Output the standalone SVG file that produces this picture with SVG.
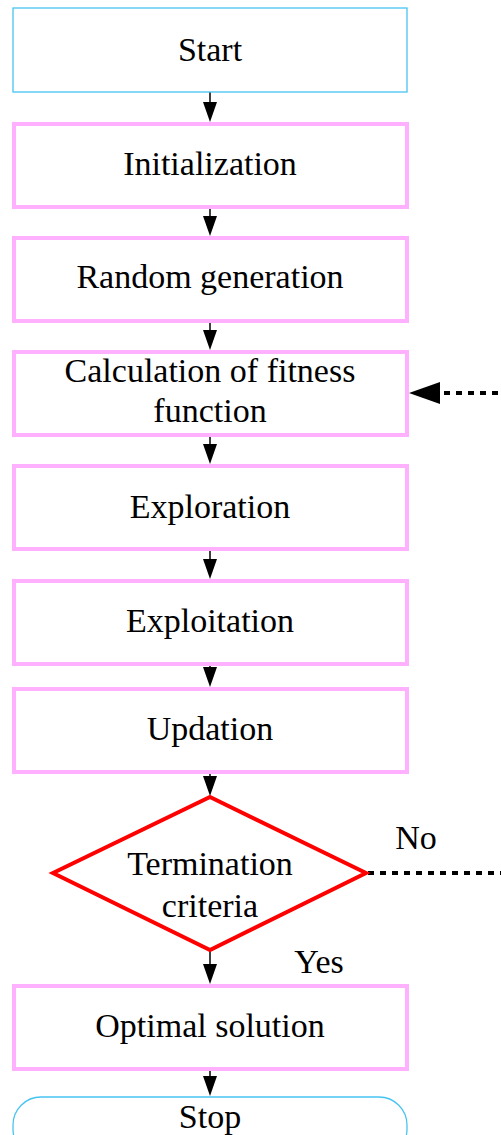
<svg xmlns="http://www.w3.org/2000/svg" width="501" height="1135" viewBox="0 0 501 1135">
  <style>
    .lbl { font-family: "Liberation Serif", "Times New Roman", serif; font-size: 34px; fill: #000; text-anchor: middle; }
    .term { fill: #fff; stroke: #45c4f2; stroke-width: 1.3; }
    .proc { fill: #fff; stroke: #ffb0ff; stroke-width: 4; }
    .dec { fill: #fff; stroke: #ff0000; stroke-width: 4; stroke-linejoin: miter; }
    .flow { stroke: #000; stroke-width: 1.5; fill: none; }
    .loop { stroke: #000; stroke-width: 4; stroke-dasharray: 6 6; fill: none; }
  </style>
  <rect width="501" height="1135" fill="#fff"/>

  <g id="connectors">
    <line class="flow" x1="210" y1="92" x2="210" y2="106"/>
    <path d="M203,102 L217,102 L210,122 Z" fill="#000"/>
    <line class="flow" x1="210" y1="207" x2="210" y2="220"/>
    <path d="M203,216 L217,216 L210,236 Z" fill="#000"/>
    <line class="flow" x1="210" y1="321" x2="210" y2="334"/>
    <path d="M203,330 L217,330 L210,350 Z" fill="#000"/>
    <line class="flow" x1="210" y1="435" x2="210" y2="448"/>
    <path d="M203,444 L217,444 L210,464 Z" fill="#000"/>
    <line class="flow" x1="210" y1="549" x2="210" y2="563"/>
    <path d="M203,559 L217,559 L210,579 Z" fill="#000"/>
    <line class="flow" x1="210" y1="664" x2="210" y2="671"/>
    <path d="M203,667 L217,667 L210,687 Z" fill="#000"/>
    <line class="flow" x1="210" y1="772" x2="210" y2="780"/>
    <path d="M203,776 L217,776 L210,796 Z" fill="#000"/>
    <line class="flow" x1="210" y1="950" x2="210" y2="968"/>
    <path d="M203,964 L217,964 L210,984 Z" fill="#000"/>
    <line class="flow" x1="210" y1="1069" x2="210" y2="1080"/>
    <path d="M203,1076 L217,1076 L210,1096 Z" fill="#000"/>
    <!-- loop back: decision "No" to fitness evaluation -->
    <line class="loop" x1="368" y1="873" x2="501" y2="873"/>
    <line class="loop" x1="444" y1="393" x2="501" y2="393"/>
    <path d="M409,393 L440,382 L440,404 Z" fill="#000"/>
  </g>

  <g id="start">
    <rect class="term" x="13" y="8" width="394" height="84"/>
    <text class="lbl" x="210" y="61">Start</text>
  </g>
  <g id="init">
    <rect class="proc" x="14" y="124" width="393" height="83"/>
    <text class="lbl" x="210" y="175">Initialization</text>
  </g>
  <g id="random">
    <rect class="proc" x="14" y="238" width="393" height="83"/>
    <text class="lbl" x="210" y="288">Random generation</text>
  </g>
  <g id="fitness">
    <rect class="proc" x="14" y="352" width="393" height="83"/>
    <text class="lbl" x="210" y="382">Calculation of fitness</text>
    <text class="lbl" x="210" y="422">function</text>
  </g>
  <g id="exploration">
    <rect class="proc" x="14" y="466" width="393" height="83"/>
    <text class="lbl" x="210" y="518">Exploration</text>
  </g>
  <g id="exploitation">
    <rect class="proc" x="14" y="581" width="393" height="83"/>
    <text class="lbl" x="210" y="632">Exploitation</text>
  </g>
  <g id="updation">
    <rect class="proc" x="14" y="689" width="393" height="83"/>
    <text class="lbl" x="210" y="740">Updation</text>
  </g>
  <g id="termination">
    <polygon class="dec" points="210,797 366,873 210,950 53,873"/>
    <text class="lbl" x="210" y="875">Termination</text>
    <text class="lbl" x="210" y="917">criteria</text>
  </g>
  <g id="optimal">
    <rect class="proc" x="14" y="986" width="393" height="83"/>
    <text class="lbl" x="210" y="1037">Optimal solution</text>
  </g>
  <g id="stop">
    <rect class="term" x="13" y="1097" width="394" height="60" rx="28" ry="28"/>
    <text class="lbl" x="210" y="1128">Stop</text>
  </g>

  <g id="edge-labels">
    <text class="lbl" x="416" y="849">No</text>
    <text class="lbl" x="319" y="973">Yes</text>
  </g>
</svg>
